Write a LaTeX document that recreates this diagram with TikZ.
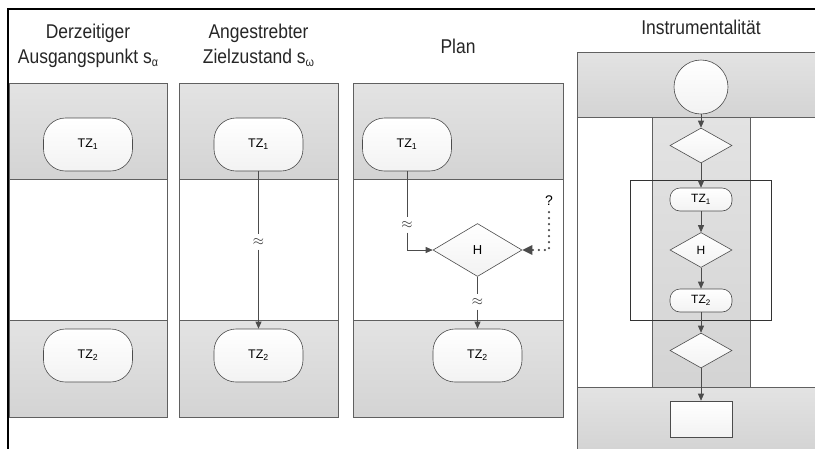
\documentclass[tikz,border=0pt]{standalone}
\usepackage{fontspec}
\usepackage{graphicx}
\setmainfont{Liberation Sans}
\usetikzlibrary{arrows.meta,shapes.geometric}
\newcommand\vstretch[1]{\scalebox{0.98}[1.12]{#1}}
\begin{document}
\begin{tikzpicture}[x=1pt,y=-1pt,
  band/.style={draw=gray!75!black, line width=0.6pt, top color=gray!22, bottom color=gray!34},
  panelline/.style={draw=gray!75!black, line width=0.6pt},
  head/.style={font=\fontsize{17.8}{21}\selectfont, text=black!85, inner sep=0pt},
  tz/.style={draw=gray!60!black, line width=0.6pt, rounded corners=22pt, top color=white, bottom color=gray!10,
             minimum width=89pt, minimum height=53pt, font=\fontsize{12.5}{14}\selectfont, inner sep=0pt},
  tzs/.style={draw=gray!60!black, line width=0.6pt, rounded corners=10pt, top color=white, bottom color=gray!10,
             minimum width=62pt, minimum height=23pt, font=\fontsize{12}{14}\selectfont, inner sep=0pt},
  dia/.style={diamond, draw=gray!60!black, line width=0.6pt, top color=white, bottom color=gray!10,
             minimum width=89pt, minimum height=53pt, font=\fontsize{13}{15}\selectfont, inner sep=0pt},
  dias/.style={diamond, draw=gray!60!black, line width=0.6pt, top color=white, bottom color=gray!10,
             minimum width=62pt, minimum height=35pt, font=\fontsize{12}{14}\selectfont, inner sep=0pt},
  approx/.style={font=\fontsize{15}{16}\selectfont, inner sep=4pt, text=black!80},
  conn/.style={draw=black!70, line width=0.7pt},
  arr/.style={conn, -{Triangle[length=7pt,width=6pt]}},
  dotarr/.style={draw=black!70, line width=2.4pt, line cap=round, dash pattern=on 0pt off 6pt,
                 -{Triangle[length=10pt,width=10pt,line cap=butt,line width=0pt]}}
]
\useasboundingbox (0,0) rectangle (815,448);
\fill[white] (0,0) rectangle (815,448);

% panel 1
\draw[band] (9,83) rectangle (167,179);
\draw[band] (9,320) rectangle (167,417);
\draw[panelline] (9,83) rectangle (167,417);
% panel 2
\draw[band] (179,83) rectangle (338,179);
\draw[band] (179,320) rectangle (338,417);
\draw[panelline] (179,83) rectangle (338,417);
% panel 3
\draw[band] (353,83) rectangle (563,179);
\draw[band] (353,320) rectangle (563,417);
\draw[panelline] (353,83) rectangle (563,417);
% column 4
\draw[band] (577,52) rectangle (817,117);
\draw[band] (577,387) rectangle (817,450);
\draw[panelline] (577,117) -- (577,387);
\draw[band] (652,117) rectangle (750,387);
\draw[draw=black!80, line width=0.6pt] (630,180) rectangle (771,320);

% outer frame
\draw[line width=2pt] (8,450) -- (8,9) -- (817,9);

% headings
\node[head] (h1a) at (88,33) {\vstretch{Derzeitiger}};
\node[head] (h1b) at (88,58) {\vstretch{Ausgangspunkt s{\fontsize{11}{12}\selectfont\raisebox{-3pt}{α}}}};
\node[head] (h2a) at (258.5,33) {\vstretch{Angestrebter}};
\node[head] (h2b) at (258.5,58) {\vstretch{Zielzustand s{\fontsize{11}{12}\selectfont\raisebox{-3pt}{ω}}}};
\node[head] (h3) at (458,46) {\vstretch{Plan}};
\node[head] (h4) at (701,27) {\vstretch{Instrumentalität}};

% panel 1 nodes
\node[tz] (a1) at (88,144.5) {TZ\textsubscript{1}};
\node[tz] (a2) at (88,355.5) {TZ\textsubscript{2}};

% panel 2
\node[tz] (b1) at (258.5,144.5) {TZ\textsubscript{1}};
\node[tz] (b2) at (258.5,355.5) {TZ\textsubscript{2}};
\node[approx] (bx) at (258.5,242) {$\approx$};
\draw[conn] (b1) -- (bx);
\draw[arr] (bx) -- (b2);

% panel 3
\node[tz] (c1) at (407,144.5) {TZ\textsubscript{1}};
\node[dia] (cH) at (477.5,250) {H};
\node[tz] (c2) at (477.5,355.5) {TZ\textsubscript{2}};
\node[approx] (cx1) at (407,225) {$\approx$};
\node[approx] (cx2) at (477.5,302) {$\approx$};
\node[font=\fontsize{14}{16}\selectfont, inner sep=1pt] (q) at (549,201) {?};
\draw[conn] (c1) -- (cx1);
\draw[arr] (cx1) |- (cH.west);
\draw[conn] (cH) -- (cx2);
\draw[arr] (cx2) -- (c2);
\draw[dotarr] (q.south) ++(0,5) |- (cH.east);

% column 4 nodes
\node[circle, draw=gray!60!black, line width=0.6pt, top color=white, bottom color=gray!10, minimum size=54pt, inner sep=0pt] (d0) at (701,87) {};
\node[dias] (d1) at (701,145.5) {};
\node[tzs] (d2) at (701,199.5) {TZ\textsubscript{1}};
\node[dias] (d3) at (701,250) {H};
\node[tzs] (d4) at (701,300.5) {TZ\textsubscript{2}};
\node[dias] (d5) at (701,350.5) {};
\node[draw=gray!60!black, line width=0.6pt, top color=white, bottom color=gray!10, minimum width=62pt, minimum height=36pt, inner sep=0pt] (d6) at (701,419) {};
\draw[arr] (d0) -- (d1);
\draw[arr] (d1) -- (d2);
\draw[arr] (d2) -- (d3);
\draw[arr] (d3) -- (d4);
\draw[arr] (d4) -- (d5);
\draw[arr] (d5) -- (d6);
\end{tikzpicture}
\end{document}
